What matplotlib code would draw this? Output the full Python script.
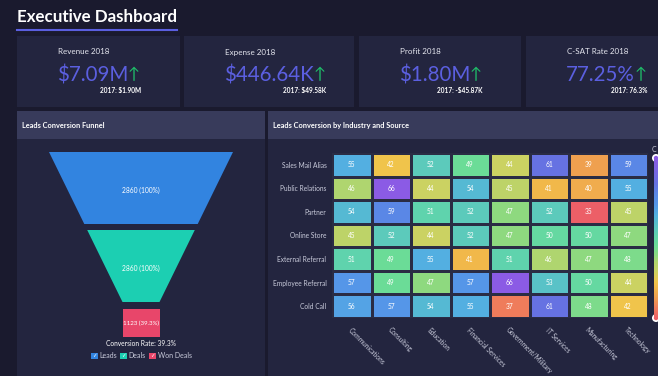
import matplotlib
matplotlib.use("Agg")
import matplotlib.pyplot as plt
from matplotlib.patches import Rectangle, Polygon, Circle
from matplotlib.colors import LinearSegmentedColormap, Normalize
import numpy as np

# ---- data ----
kpi_titles = ["Revenue 2018", "Expense 2018", "Profit 2018", "C-SAT Rate 2018"]
kpi_values = ["$7.09M", "$446.64K", "$1.80M", "77.25%"]
kpi_prev = ["2017: $1.90M", "2017: $49.58K", "2017: -$45.87K", "2017: 76.3%"]

stage_names = ["Leads", "Deals", "Won Deals"]
stage_values = [2860, 2860, 1123]
stage_colors = ["#3284e0", "#1ccfb2", "#e8466a"]

sources = ["Sales Mail Alias", "Public Relations", "Partner", "Online Store",
           "External Referral", "Employee Referral", "Cold Call"]
industries = ["Communications", "Consulting", "Education", "Financial Services",
              "Government/Military", "IT Services", "Manufacturing", "Technology"]
conv = [
    [55, 42, 52, 49, 44, 61, 39, 59],
    [46, 66, 44, 54, 45, 41, 40, 55],
    [54, 59, 51, 52, 47, 52, 35, 45],
    [45, 52, 44, 52, 47, 50, 50, 47],
    [51, 49, 55, 41, 51, 46, 47, 48],
    [57, 49, 47, 57, 66, 53, 50, 44],
    [56, 57, 54, 55, 37, 61, 48, 42],
]

# ---- style ----
BG = "#1a1a2e"
CARD = "#23253f"
HEAD = "#383b5b"
ACCENT = "#5b5fe0"
GREEN = "#1fbf6a"
LIGHT = "#c9cbdb"
F = ["Lato", "DejaVu Sans"]

fig = plt.figure(figsize=(6.58, 3.76), dpi=100, facecolor=BG)
bg = fig.add_axes([0, 0, 1, 1])
bg.set_xlim(0, 658)
bg.set_ylim(376, 0)
bg.axis("off")
bg.set_facecolor(BG)

# title
bg.text(17, 17, "Executive Dashboard", color="white", fontsize=12.2,
        fontweight="bold", family=F, va="center", ha="left")
bg.plot([17, 177], [30, 30], color=ACCENT, lw=1.5)

# KPI cards
cards = [(17, 180), (184, 354), (359, 521), (526, 670)]
renderer = fig.canvas.get_renderer()
for (x0, x1), t, v, p in zip(cards, kpi_titles, kpi_values, kpi_prev):
    bg.add_patch(Rectangle((x0, 36), x1 - x0, 71, color=CARD, lw=0))
    tx = x0 + 41
    bg.text(tx, 52, t, color="#e4e5ee", fontsize=5.8, family=F, va="center")
    vt = bg.text(tx - 1, 75, v, color=ACCENT, fontsize=14.8, family=F, va="center")
    bb = vt.get_window_extent(renderer).transformed(bg.transData.inverted())
    at = bg.text(bb.x1 - 0.5, 75.5, "↑", color=GREEN, fontsize=11.5, family=F,
                 va="center", ha="left")
    ab = at.get_window_extent(renderer).transformed(bg.transData.inverted())
    bg.text(ab.x1 + 1, 90.5, p, color="white", fontsize=4.7, fontweight="bold",
            family=F, va="center", ha="right")

# panels
for x0, x1, title in [(17, 265, "Leads Conversion Funnel"),
                      (268, 670, "Leads Conversion by Industry and Source")]:
    bg.add_patch(Rectangle((x0, 111), x1 - x0, 265, color=CARD, lw=0))
    bg.add_patch(Rectangle((x0, 111), x1 - x0, 28, color=HEAD, lw=0))
    bg.text(x0 + 5, 125.5, title, color="white", fontsize=5.3,
            fontweight="bold", family=F, va="center")

# funnel
cx, top, stage_h, gap = 141, 152, 72, 6
top_w, neck_w = 184, 37
cone_h = 2 * stage_h + gap
slope = (top_w - neck_w) / cone_h
y = top
for i, (name, val, col) in enumerate(zip(stage_names, stage_values, stage_colors)):
    pct = val / stage_values[0] * 100
    label = f"{val} ({pct:.0f}%)" if pct == round(pct) else f"{val} ({pct:.1f}%)"
    if i < len(stage_names) - 1:
        w0 = top_w - slope * (y - top)
        w1 = top_w - slope * (y + stage_h - top)
        bg.add_patch(Polygon([(cx - w0 / 2, y), (cx + w0 / 2, y),
                              (cx + w1 / 2, y + stage_h), (cx - w1 / 2, y + stage_h)],
                             closed=True, color=col, lw=0))
        bg.text(cx, y + stage_h / 2 + 2, label, color="white", fontsize=4.8,
                family=F, ha="center", va="center")
        y += stage_h + gap + (1 if i == 1 else 0)
    else:
        bg.add_patch(Rectangle((cx - neck_w / 2, y), neck_w, 28, color=col, lw=0))
        bg.text(cx, y + 14, label, color="white", fontsize=4.4, family=F,
                ha="center", va="center")

rate = stage_values[-1] / stage_values[0] * 100
bg.text(cx, 343, f"Conversion Rate: {rate:.1f}%", color="white", fontsize=4.8,
        family=F, ha="center", va="center")

# funnel legend
lx = [91, 120, 149]
for x, name, col in zip(lx, stage_names, stage_colors):
    bg.add_patch(Rectangle((x, 352.5), 6.5, 6.5, color=col, lw=0))
    bg.text(x + 3.2, 356, "✓", color="white", fontsize=4, family=F,
            ha="center", va="center")
    bg.text(x + 8.5, 356, name, color=LIGHT, fontsize=5, family=F,
            ha="left", va="center")

# heatmap
anchors = [(35, "#ec5f67"), (37, "#ef7d5b"), (39, "#efa04f"), (41, "#f1b94a"),
           (42, "#f0c54b"), (44, "#cbd262"), (46, "#aed56f"), (47, "#8fd97f"),
           (49, "#6bdc97"), (51, "#5fd3ac"), (52, "#5ccabb"), (54, "#55b9d3"),
           (55, "#53b0e1"), (57, "#5596e8"), (59, "#5a88e6"), (61, "#6672e2"),
           (66, "#8b5be5")]
vmin, vmax = 35, 66
cmap = LinearSegmentedColormap.from_list(
    "conv", [((v - vmin) / (vmax - vmin), c) for v, c in anchors])
norm = Normalize(vmin, vmax)

data = np.array(conv)
hm = fig.add_axes([332 / 658, (376 - 318) / 376, 316 / 658, 165 / 376])
mesh = hm.pcolormesh(data, cmap=cmap, norm=norm, edgecolors="#2a2c44", linewidth=0.8)
hm.set_xlim(0, len(industries))
hm.set_ylim(len(sources), 0)
for s in hm.spines.values():
    s.set_visible(False)
hm.set_yticks(np.arange(len(sources)) + 0.5)
hm.set_yticklabels(sources, color=LIGHT, fontsize=4.8, family=F)
hm.set_xticks(np.arange(len(industries)) + 0.5)
hm.set_xticklabels(industries, color=LIGHT, fontsize=4.8, family=F,
                   rotation=-45, ha="left", va="top", rotation_mode="anchor")
hm.tick_params(length=0, pad=4)
hm.tick_params(axis="x", pad=6)
for r in range(len(sources)):
    for c in range(len(industries)):
        hm.text(c + 0.5, r + 0.5, str(conv[r][c]), color="white", fontsize=4.8,
                family=F, ha="center", va="center")

# colour scale (cut by the edge)
cax = fig.add_axes([654 / 658, (376 - 318) / 376, 8 / 658, 160 / 376])
cb = fig.colorbar(mesh, cax=cax)
cb.outline.set_visible(False)
cax.set_yticks([])
bg.text(652, 150, "C", color=LIGHT, fontsize=5, family=F, va="center")
for yy, v in [(158, vmax), (318, vmin)]:
    bg.add_patch(Circle((656, yy), 4, color="white", lw=0, zorder=5))
    bg.add_patch(Circle((656, yy), 2.2, color=cmap(norm(v)), lw=0, zorder=6))

fig.savefig("out.png", dpi=100, facecolor=BG)
